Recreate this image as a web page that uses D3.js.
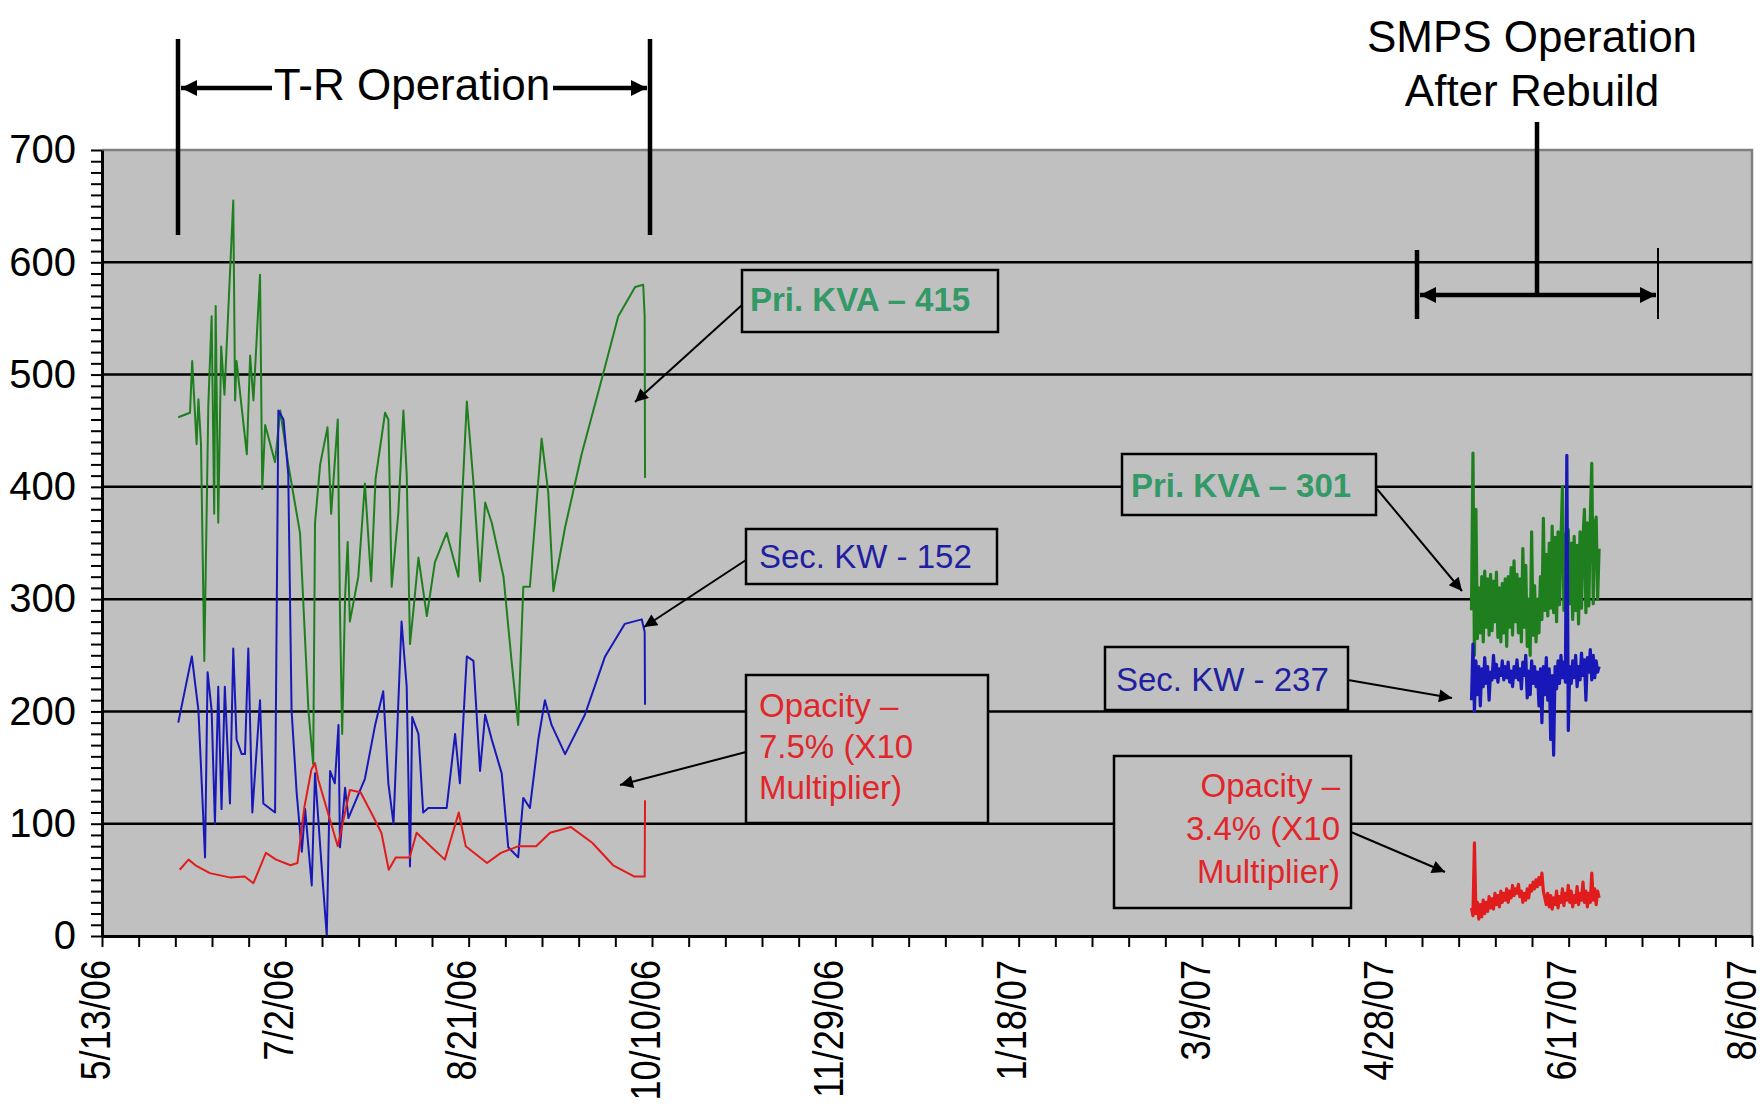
<!DOCTYPE html>
<html>
<head>
<meta charset="utf-8">
<script src="https://d3js.org/d3.v7.min.js"></script>
<style>
  body { margin: 0; background: #fff; }
  svg text { font-family: "Liberation Sans", Arial, sans-serif; }
</style>
</head>
<body>
<script>
// x axis labels (every 50 days) and y axis labels
var xTickLabels = ["5/13/06", "7/2/06", "8/21/06", "10/10/06", "11/29/06", "1/18/07", "3/9/07", "4/28/07", "6/17/07", "8/6/07"];
var yTickLabels = [0, 100, 200, 300, 400, 500, 600, 700];

// T-R operation period, days counted from 5/13/06
var trKvaDays = [20.8, 24.0, 24.6, 25.8, 26.3, 27.0, 27.9, 29.0, 29.9, 30.6, 31.0, 31.7, 32.5, 33.4, 35.8, 36.3, 36.7, 39.5, 40.4, 41.3,
  43.1, 43.7, 44.5, 47.2, 48.6, 50.8, 54.0, 56.3, 57.6, 58.1, 59.5, 61.5, 62.5, 64.3, 64.9, 65.5, 66.3, 67.0, 67.6, 69.9,
  71.7, 73.4, 74.6, 77.2, 78.1, 79.0, 80.8, 82.2, 83.1, 84.0, 84.9, 86.3, 88.6, 90.8, 94.0, 97.2, 99.5, 101.3, 103.1, 104.5,
  106.3, 109.5, 111.7, 113.5, 114.9, 116.7, 119.9, 121.7, 123.1, 126.3, 130.8, 136.3, 140.8, 145.4, 147.6, 148.0, 148.1];
var trKva = [462, 466, 512, 438, 478, 438, 245, 473, 552, 376, 561, 368, 525, 482, 655, 477, 512, 429, 517, 477,
  589, 398, 455, 422, 468, 420, 359, 201, 153, 368, 420, 453, 376, 460, 289, 180, 302, 351, 280, 320,
  403, 316, 407, 466, 460, 311, 376, 468, 411, 260, 289, 337, 285, 333, 359, 320, 476, 404, 316, 386,
  368, 320, 245, 188, 311, 311, 443, 395, 307, 364, 429, 496, 552, 578, 580, 552, 408];

var trKwDays = [20.8, 24.5, 26.3, 27.2, 28.1, 28.8, 29.9, 30.8, 31.7, 32.6, 33.5, 34.9, 35.8, 36.7, 38.1, 39.0, 39.9, 41.0, 43.1, 44.0,
  47.2, 48.1, 49.5, 50.8, 51.7, 53.1, 54.5, 55.4, 57.2, 58.1, 59.9, 61.3, 62.2, 63.5, 64.5, 64.9, 66.3, 67.2, 71.7, 74.5,
  76.7, 78.1, 79.5, 81.7, 83.1, 84.0, 84.6, 86.3, 87.6, 89.0, 94.0, 96.3, 97.6, 99.5, 101.3, 103.1, 104.5, 106.3, 109.0, 110.8,
  113.5, 114.9, 116.7, 119.0, 120.8, 122.6, 126.3, 131.7, 137.2, 142.6, 147.2, 148.0, 148.1];
var trKw = [190, 249, 201, 136, 70, 235, 201, 100, 222, 113, 222, 118, 256, 175, 162, 162, 256, 110, 210, 118,
  110, 468, 460, 411, 201, 127, 75, 113, 45, 145, 62, 0, 147, 136, 188, 79, 132, 105, 140, 188,
  218, 136, 100, 280, 222, 62, 195, 180, 110, 114, 114, 180, 136, 249, 245, 147, 197, 175, 145, 79,
  70, 123, 114, 175, 210, 188, 162, 197, 249, 278, 282, 271, 206];

var trOpacityDays = [21.2, 23.6, 25.5, 29.4, 35.1, 38.9, 41.3, 44.7, 47.5, 51.4, 53.3, 55.2, 57.1, 58.1, 59.0, 64.3, 67.6, 70.5, 73.4, 76.2,
  78.2, 80.1, 83.9, 85.8, 89.6, 93.5, 97.3, 99.2, 105.0, 108.8, 113.6, 118.4, 122.2, 127.9, 133.7, 139.4, 145.1, 148.0, 148.1];
var trOpacity = [59, 68, 63, 56, 52, 53, 47, 74, 68, 63, 65, 115, 148, 154, 139, 80, 130, 128, 110, 92,
  59, 70, 70, 92, 80, 68, 110, 80, 65, 74, 80, 80, 92, 97, 83, 63, 53, 53, 121];

// SMPS operation after rebuild, logged every 0.4 day from day 373.5
var smpsStartDay = 373.5;
var smpsStepDays = 0.4;
var smpsKva = [290, 430, 250, 380, 265, 310, 270, 320, 262, 325, 275, 318, 268, 322, 272, 316, 280, 324, 266, 310,
  262, 314, 270, 318, 258, 320, 275, 328, 268, 334, 280, 322, 270, 318, 262, 345, 275, 330, 258, 300,
  250, 360, 268, 312, 262, 300, 270, 320, 282, 372, 290, 340, 285, 350, 292, 365, 288, 355, 280, 360,
  295, 352, 400, 290, 358, 284, 362, 296, 350, 282, 356, 290, 348, 278, 360, 292, 354, 380, 288, 368,
  294, 372, 421, 296, 366, 373, 300, 345];
var smpsKw = [210, 260, 200, 245, 215, 240, 205, 238, 222, 248, 225, 240, 210, 235, 228, 250, 230, 242, 226, 238,
  232, 245, 228, 240, 230, 244, 226, 236, 222, 240, 230, 246, 228, 238, 220, 244, 232, 250, 212, 236,
  215, 245, 225, 240, 222, 235, 205, 238, 190, 240, 215, 248, 210, 238, 175, 232, 161, 240, 220, 245,
  225, 250, 230, 244, 226, 428, 183, 240, 225, 245, 230, 250, 222, 240, 228, 252, 232, 246, 210, 248,
  235, 255, 228, 250, 230, 245, 235, 240];
var smpsOpacity = [25, 18, 83, 20, 30, 15, 28, 17, 32, 20, 30, 22, 35, 25, 33, 24, 38, 28, 36, 26,
  40, 30, 38, 32, 42, 30, 40, 34, 45, 36, 42, 38, 46, 35, 40, 30, 38, 32, 42, 34,
  45, 40, 48, 42, 50, 44, 52, 46, 56, 40, 34, 28, 38, 26, 36, 24, 34, 28, 40, 25,
  35, 30, 42, 27, 38, 32, 45, 30, 40, 26, 36, 30, 44, 28, 38, 32, 48, 30, 40, 26,
  38, 30, 56, 32, 42, 28, 40, 34];

// callout texts
var calloutText = [
  ["Pri. KVA \u2013 415"],
  ["Sec. KW - 152"],
  ["Opacity \u2013", "7.5% (X10", "Multiplier)"],
  ["Pri. KVA \u2013 301"],
  ["Sec. KW - 237"],
  ["Opacity \u2013", "3.4% (X10", "Multiplier)"]
];
var trTitle = "T-R Operation";
var smpsTitle = ["SMPS Operation", "After Rebuild"];

var kvaColor = "#1f7f1f";
var kwColor = "#1818b8";
var opacityColor = "#e01c1c";

var svgWidth = 1764;
var svgHeight = 1111;

var margin = {
  top: 150,
  right: 12,
  bottom: 175,
  left: 102
};

var chartWidth = svgWidth - margin.left - margin.right;
var chartHeight = svgHeight - margin.top - margin.bottom;

var svg = d3.select("body")
  .append("svg")
  .attr("width", svgWidth)
  .attr("height", svgHeight);

svg.append("rect")
  .attr("width", svgWidth)
  .attr("height", svgHeight)
  .attr("fill", "#ffffff");

var defs = svg.append("defs");
function addMarker(id, w, h) {
  defs.append("marker")
    .attr("id", id)
    .attr("viewBox", "0 0 10 10")
    .attr("refX", 10)
    .attr("refY", 5)
    .attr("markerUnits", "userSpaceOnUse")
    .attr("markerWidth", w)
    .attr("markerHeight", h)
    .attr("orient", "auto")
    .append("path")
    .attr("d", "M0,0 L10,5 L0,10 Z")
    .attr("fill", "#000");
}
addMarker("bigArrow", 26, 16);
addMarker("smallArrow", 20, 13);

var chartGroup = svg.append("g")
  .attr("transform", `translate(${margin.left}, ${margin.top})`);

var parseDate = d3.timeParse("%m/%d/%y");
var startDate = parseDate(xTickLabels[0]);
var endDate = parseDate(xTickLabels[xTickLabels.length - 1]);

function dayToDate(day) {
  return new Date(startDate.getTime() + day * 864e5);
}

function toPoints(days, values) {
  return values.map(function(v, i) {
    return { date: dayToDate(days[i]), value: v };
  });
}

var xScale = d3.scaleTime()
  .domain([startDate, endDate])
  .range([0, chartWidth]);

var yScale = d3.scaleLinear()
  .domain([0, d3.max(yTickLabels)])
  .range([chartHeight, 0]);

// plot area
chartGroup.append("rect")
  .attr("width", chartWidth)
  .attr("height", chartHeight)
  .attr("fill", "#c0c0c0");

chartGroup.append("path")
  .attr("d", `M0,0 H${chartWidth} V${chartHeight}`)
  .attr("fill", "none")
  .attr("stroke", "#808080")
  .attr("stroke-width", 2.5);

// gridlines
chartGroup.selectAll(".grid")
  .data(yTickLabels.filter(d => d > 0 && d < d3.max(yTickLabels)))
  .enter()
  .append("line")
  .attr("x1", 0)
  .attr("x2", chartWidth)
  .attr("y1", d => yScale(d))
  .attr("y2", d => yScale(d))
  .attr("stroke", "#000")
  .attr("stroke-width", 2.5);

// series
var smpsDays = smpsKva.map((v, i) => smpsStartDay + i * smpsStepDays);
var seriesList = [
  { points: toPoints(trKvaDays, trKva), color: kvaColor, width: 2 },
  { points: toPoints(smpsDays, smpsKva), color: kvaColor, width: 3.2 },
  { points: toPoints(trKwDays, trKw), color: kwColor, width: 2 },
  { points: toPoints(smpsDays, smpsKw), color: kwColor, width: 3.2 },
  { points: toPoints(trOpacityDays, trOpacity), color: opacityColor, width: 2 },
  { points: toPoints(smpsDays, smpsOpacity), color: opacityColor, width: 3.2 }
];

var line = d3.line()
  .x(d => xScale(d.date))
  .y(d => yScale(d.value));

chartGroup.selectAll(".series")
  .data(seriesList)
  .enter()
  .append("path")
  .attr("class", "series")
  .attr("d", d => line(d.points))
  .attr("fill", "none")
  .attr("stroke", d => d.color)
  .attr("stroke-width", d => d.width)
  .attr("stroke-linejoin", "round");

// axes
var minorDays = d3.range(0, d3.timeDay.count(startDate, endDate) + 1, 10)
  .map(d => d3.timeDay.offset(startDate, d));

var bottomAxis = d3.axisBottom(xScale)
  .tickValues(minorDays)
  .tickSize(11)
  .tickSizeOuter(0)
  .tickFormat("");

var leftAxis = d3.axisLeft(yScale)
  .tickValues(d3.range(0, d3.max(yTickLabels) + 1, 10))
  .tickSize(11)
  .tickSizeOuter(0)
  .tickPadding(15)
  .tickFormat(d => yTickLabels.indexOf(d) >= 0 ? d : "");

var xAxisG = chartGroup.append("g")
  .attr("transform", `translate(0, ${chartHeight})`)
  .call(bottomAxis);

var yAxisG = chartGroup.append("g")
  .call(leftAxis);

[xAxisG, yAxisG].forEach(function(g) {
  g.select(".domain").attr("stroke", "#000").attr("stroke-width", 3);
  g.selectAll(".tick line").attr("stroke", "#000").attr("stroke-width", 2);
});

yAxisG.selectAll("text")
  .attr("font-family", "Liberation Sans, Arial, sans-serif")
  .attr("font-size", 40)
  .attr("fill", "#000");

// rotated date labels, a bit condensed like the original
var lastLabel = xTickLabels[xTickLabels.length - 1];
chartGroup.selectAll(".xLabel")
  .data(xTickLabels)
  .enter()
  .append("text")
  .attr("class", "xLabel")
  .attr("transform", d => `translate(${xScale(parseDate(d)) - (d === lastLabel ? 11 : 7)}, ${chartHeight + 24}) rotate(-90) scale(0.86, 1)`)
  .attr("text-anchor", "end")
  .attr("dy", "0.35em")
  .attr("font-size", 42)
  .attr("fill", "#000")
  .text(d => d);

// T-R operation marker
var ann = svg.append("g");
[178, 650].forEach(function(x) {
  ann.append("line")
    .attr("x1", x).attr("x2", x)
    .attr("y1", 39).attr("y2", 235)
    .attr("stroke", "#000")
    .attr("stroke-width", 4.5);
});
ann.append("line")
  .attr("x1", 272).attr("x2", 181).attr("y1", 88).attr("y2", 88)
  .attr("stroke", "#000").attr("stroke-width", 4.5)
  .attr("marker-end", "url(#bigArrow)");
ann.append("line")
  .attr("x1", 553).attr("x2", 647).attr("y1", 88).attr("y2", 88)
  .attr("stroke", "#000").attr("stroke-width", 4.5)
  .attr("marker-end", "url(#bigArrow)");
ann.append("text")
  .attr("x", 412)
  .attr("y", 100)
  .attr("text-anchor", "middle")
  .attr("font-size", 44)
  .text(trTitle);

// SMPS operation marker
ann.selectAll(".smpsTitle")
  .data(smpsTitle)
  .enter()
  .append("text")
  .attr("x", 1532)
  .attr("y", (d, i) => 52 + i * 54)
  .attr("text-anchor", "middle")
  .attr("font-size", 44)
  .text(d => d);
ann.append("line")
  .attr("x1", 1537).attr("x2", 1537).attr("y1", 122).attr("y2", 297)
  .attr("stroke", "#000").attr("stroke-width", 4.5);
ann.append("line")
  .attr("x1", 1537).attr("x2", 1420).attr("y1", 295).attr("y2", 295)
  .attr("stroke", "#000").attr("stroke-width", 4.5)
  .attr("marker-end", "url(#bigArrow)");
ann.append("line")
  .attr("x1", 1537).attr("x2", 1656).attr("y1", 295).attr("y2", 295)
  .attr("stroke", "#000").attr("stroke-width", 4.5)
  .attr("marker-end", "url(#bigArrow)");
ann.append("line")
  .attr("x1", 1417).attr("x2", 1417).attr("y1", 250).attr("y2", 319)
  .attr("stroke", "#000").attr("stroke-width", 4.5);
ann.append("line")
  .attr("x1", 1658).attr("x2", 1658).attr("y1", 248).attr("y2", 319)
  .attr("stroke", "#000").attr("stroke-width", 2);

// callouts
var calloutLayout = [
  { x: 742, y: 270, w: 256, h: 62, tx: 750, ty: 311, dy: 0, anchor: "start", color: "#339966", weight: "bold", tail: [742, 305], tip: [635, 402] },
  { x: 746, y: 529, w: 251, h: 55, tx: 759, ty: 568, dy: 0, anchor: "start", color: "#1f1fa0", weight: "normal", tail: [746, 560], tip: [644, 627] },
  { x: 746, y: 675, w: 242, h: 148, tx: 759, ty: 717, dy: 41, anchor: "start", color: "#e0262a", weight: "normal", tail: [746, 752], tip: [620, 785] },
  { x: 1122, y: 454, w: 254, h: 61, tx: 1131, ty: 497, dy: 0, anchor: "start", color: "#339966", weight: "bold", tail: [1377, 489], tip: [1462, 591] },
  { x: 1105, y: 647, w: 243, h: 63, tx: 1116, ty: 691, dy: 0, anchor: "start", color: "#1f1fa0", weight: "normal", tail: [1348, 680], tip: [1452, 698] },
  { x: 1114, y: 756, w: 237, h: 152, tx: 1340, ty: 797, dy: 43, anchor: "end", color: "#e0262a", weight: "normal", tail: [1351, 832], tip: [1445, 872] }
];

calloutLayout.forEach(function(c, i) {
  ann.append("line")
    .attr("x1", c.tail[0]).attr("y1", c.tail[1])
    .attr("x2", c.tip[0]).attr("y2", c.tip[1])
    .attr("stroke", "#000").attr("stroke-width", 2)
    .attr("marker-end", "url(#smallArrow)");
  ann.append("rect")
    .attr("x", c.x).attr("y", c.y)
    .attr("width", c.w).attr("height", c.h)
    .attr("fill", "#c0c0c0")
    .attr("stroke", "#000")
    .attr("stroke-width", 2.5);
  calloutText[i].forEach(function(t, j) {
    ann.append("text")
      .attr("x", c.tx)
      .attr("y", c.ty + j * c.dy)
      .attr("text-anchor", c.anchor)
      .attr("font-size", 33)
      .attr("font-weight", c.weight)
      .attr("fill", c.color)
      .text(t);
  });
});
</script>
</body>
</html>
